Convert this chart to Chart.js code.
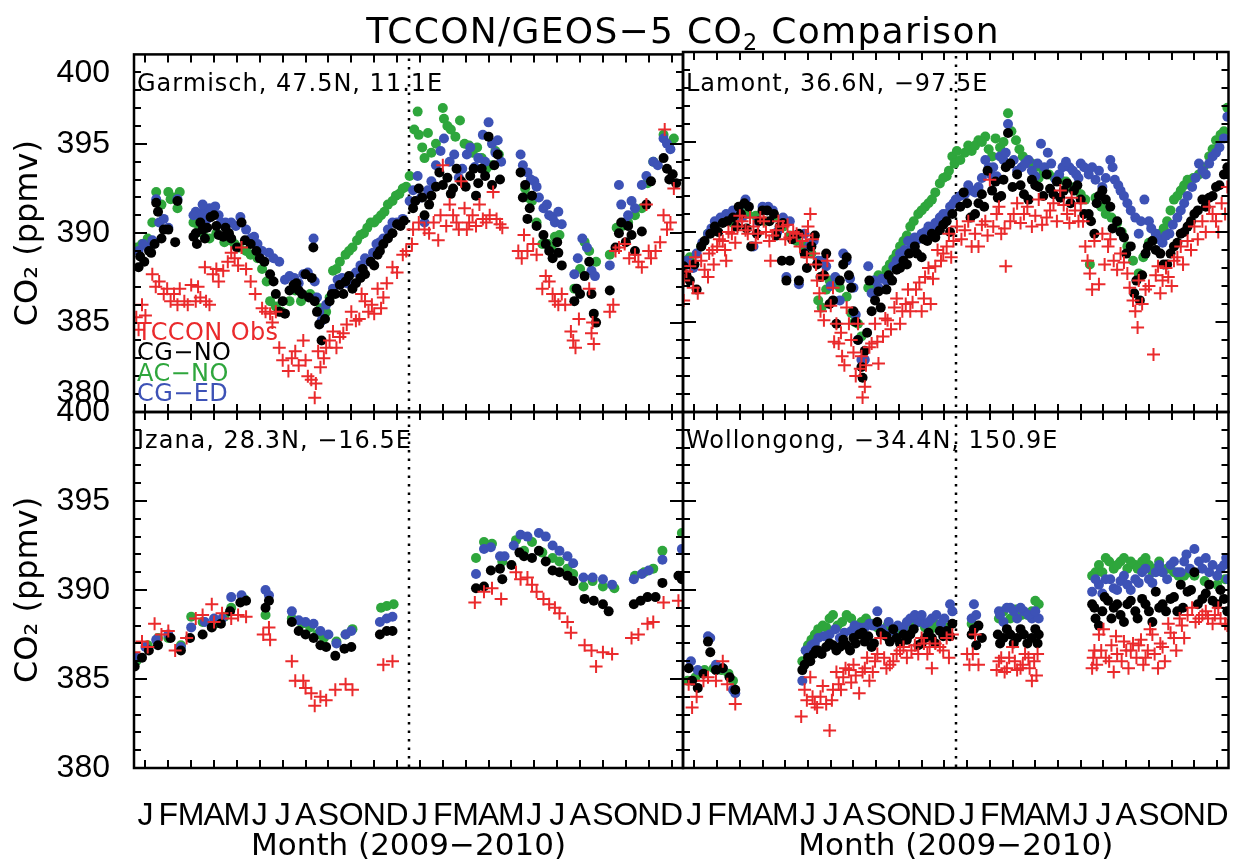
<!DOCTYPE html>
<html>
<head>
<meta charset="utf-8">
<title>TCCON/GEOS-5 CO2 Comparison</title>
<script src="https://cdn.jsdelivr.net/npm/chart.js@4.4.1/dist/chart.umd.min.js"></script>
<style>
  body { margin: 0; background: #fff; }
  #fig { position: relative; width: 1237px; height: 863px; overflow: hidden; background: #fff; }
  #fig canvas { position: absolute; left: 0; top: 0; }
  .txt { position: absolute; white-space: nowrap; line-height: 1; font-family: "DejaVu Sans", sans-serif; color: #000; }
  .title { font-size: 36px; letter-spacing: 1.3px; left: 683px; top: 13px; transform: translateX(-50%); }
  .title sub { font-size: 0.62em; vertical-align: -0.3em; line-height: 0; }
  .site { font-size: 24px; letter-spacing: 1px; }
  .key { font-size: 24px; letter-spacing: 0.4px; left: 137px; }
</style>
</head>
<body>
<div id="fig">
  <canvas id="pGar" width="1237" height="863"></canvas>
  <canvas id="pLam" width="1237" height="863"></canvas>
  <canvas id="pIza" width="1237" height="863"></canvas>
  <canvas id="pWol" width="1237" height="863"></canvas>

  <div class="txt title">TCCON/GEOS−5 CO<sub>2</sub> Comparison</div>
  <div class="txt site" style="left:137px;top:71px">Garmisch, 47.5N, 11.1E</div>
  <div class="txt site" style="left:686px;top:71px">Lamont, 36.6N, −97.5E</div>
  <div class="txt site" style="left:137px;top:428px">Izana, 28.3N, −16.5E</div>
  <div class="txt site" style="left:686px;top:428px">Wollongong, −34.4N, 150.9E</div>

  <div class="txt key" style="top:320px;color:#ea2a2c">TCCON Obs</div>
  <div class="txt key" style="top:340px;color:#000">CG−NO</div>
  <div class="txt key" style="top:361px;color:#2ea63c">AC−NO</div>
  <div class="txt key" style="top:381px;color:#3d52b6">CG−ED</div>
</div>

<script>
// x = months since 1 Jan 2009 (0..24), y = column CO2 in ppmv
const monthLetters = ['J', 'F', 'M', 'A', 'M', 'J', 'J', 'A', 'S', 'O', 'N', 'D'];
const monthCentres = [0.5, 1.5, 2.5, 3.5, 4.5, 5.5, 6.5, 7.5, 8.5, 9.5, 10.5, 11.5,
  12.5, 13.5, 14.5, 15.5, 16.5, 17.5, 18.5, 19.5, 20.5, 21.5, 22.5, 23.5];
const newYear = 12;   // 1 Jan 2010

const RED = '#ea2a2c', GREEN = '#2ea63c', BLUE = '#3d52b6', BLACK = '#000';

// ---- Garmisch ----
const garObs = [[0.1,385.3],[0.35,386.0],[0.8,387.7],[1.1,387.3],[1.45,386.9],[1.75,386.6],[2.0,386.9],[2.2,386.2],
  [2.5,387.1],[2.7,386.2],[2.9,386.4],[3.15,386.2],[3.1,388.1],[3.45,387.7],[3.7,387.3],[4.1,388.4],[4.4,388.6],
  [4.7,389.2],[5.1,387.3],[5.6,385.8],[5.95,385.5],[6.2,385.6],[6.5,382.9],[6.75,382.3],[7.05,383.4],[7.4,384.0],
  [7.5,382.9],[7.75,381.8],[7.9,380.8],[8.15,382.5],[8.4,383.6],[8.7,384.5],[9.0,384.2],[9.3,384.9],[9.7,385.1],
  [9.95,386.6],[10.25,385.6],[10.5,385.5],[10.65,386.9],[10.9,386.4],[11.3,388.1],[11.75,388.8],[12.15,389.4],
  [0.2,384.6],[0.5,385.4],[0.95,387.0],[1.3,386.6],[1.6,386.2],[1.9,386.0],[2.35,386.0],[2.8,387.0],[3.3,386.0],
  [3.6,388.0],[3.9,387.9],[4.25,388.9],[4.55,388.2],[4.9,388.0],[5.3,386.6],[5.75,385.6],[6.05,385.0],[6.35,383.6],
  [6.9,383.0],[7.2,382.6],[7.6,382.0],[7.95,381.6],[8.05,383.4],[8.3,383.0],[8.55,384.0],[8.85,383.6],[9.15,384.4],
  [9.5,385.6],[9.85,385.2],[10.1,386.2],[10.4,386.0],[10.8,385.8],[11.05,387.2],[11.5,387.8],[11.9,389.0],
  [12.2,390.2],[12.7,390.2],[13.1,390.6],[13.3,389.6],[13.5,393.8],[13.8,391.6],[14.1,390.6],[14.3,392.9],
  [14.55,390.2],[14.8,391.0],[15.1,391.6],[15.4,390.6],[15.7,392.3],[16.0,390.5],[16.8,389.0],[17.05,389.9],
  [17.45,389.4],[17.85,386.9],[18.15,387.3],[18.4,386.2],[18.7,386.6],[19.1,384.5],[19.3,383.6],[19.9,386.9],
  [20.0,384.4],[20.1,383.8],[20.8,385.6],[21.05,389.0],[21.45,389.4],[21.9,388.8],[22.2,388.1],[22.4,391.6],
  [22.6,388.6],[23.0,389.5],[23.3,390.2],[23.2,395.8],[23.6,392.5],
  [12.45,390.6],[12.9,390.0],[13.4,391.0],[13.65,390.4],[13.95,391.0],[14.2,390.2],[14.45,391.4],[14.65,390.6],
  [14.95,390.4],[15.25,390.8],[15.55,391.0],[15.85,390.8],[16.1,390.3],[16.95,388.6],[17.2,389.0],[17.6,388.8],
  [18.0,387.6],[18.3,386.6],[18.55,386.0],[18.85,386.0],[19.2,384.0],[19.45,385.2],[20.05,385.0],[20.95,386.0],
  [21.2,389.2],[21.65,388.6],[22.05,388.4],[22.5,389.0],[22.8,389.0],[23.15,391.0],[23.45,390.6]];
const garCgNo = [[0.2,388.1],[0.27,388.7],[0.66,389.0],[0.9,389.4],[0.97,391.7],[1.05,391.2],[1.2,389.7],[1.5,390.2],
  [1.9,391.8],[1.8,389.5],[2.7,390.0],[2.75,389.4],[2.9,390.6],[3.1,389.7],[3.2,390.3],[3.5,391.0],[3.7,389.9],
  [4.0,390.3],[4.25,389.7],[4.5,389.2],[4.7,390.6],[5.1,389.4],[5.35,389.0],[5.7,388.4],[5.95,387.7],[6.1,387.3],
  [6.35,385.6],[6.6,385.5],[6.98,387.1],[7.2,386.8],[7.5,387.7],[7.77,387.5],[7.84,389.2],[7.9,386.2],[8.1,384.9],
  [8.2,384.0],[8.55,386.2],[8.8,386.6],[9.0,387.1],[9.25,387.3],[9.55,386.9],[9.9,387.5],[10.1,387.7],[10.35,388.4],
  [10.65,388.8],[10.9,389.4],[11.1,389.7],[11.5,390.5],[11.8,390.7],
  [0.45,388.4],[0.75,388.9],[1.3,390.2],[2.6,389.8],[3.0,390.2],[3.35,390.9],[3.6,390.4],[3.9,389.8],[4.15,390.0],
  [4.85,389.6],[5.5,388.6],[6.2,386.6],[6.5,386.2],[6.8,386.8],[7.1,387.2],[7.35,386.6],[7.65,386.4],[8.0,385.6],
  [8.35,385.2],[8.65,386.6],[9.15,386.6],[9.4,387.6],[9.7,387.2],[10.0,388.0],[10.5,388.2],[10.75,389.0],
  [11.3,390.0],[11.65,390.4],
  [12.2,391.4],[12.45,392.5],[12.7,391.0],[13.0,392.1],[13.5,392.7],[13.7,393.1],[13.95,392.5],[14.3,392.9],
  [14.7,393.2],[14.95,392.1],[15.2,393.6],[15.5,395.4],[15.65,392.7],[15.9,394.4],[16.9,393.4],[17.1,392.7],
  [17.4,392.1],[17.2,390.8],[17.9,389.9],[18.15,389.0],[18.5,389.5],[18.7,388.2],[19.25,386.2],[19.5,386.6],
  [19.9,388.4],[20.0,386.6],[20.1,385.5],[20.8,386.8],[21.05,389.2],[21.3,390.6],[21.5,389.5],[21.75,389.9],
  [22.2,390.1],[22.6,392.9],[23.15,394.2],[23.3,393.6],[23.55,393.3],
  [12.3,391.8],[12.6,392.0],[12.9,391.6],[13.2,392.6],[13.35,393.4],[13.85,392.2],[14.1,393.6],[14.5,392.6],
  [14.85,393.6],[15.05,392.8],[15.35,393.2],[15.75,393.8],[16.0,393.0],[17.0,392.0],[17.3,391.4],[17.6,390.4],
  [18.0,389.4],[18.3,388.6],[18.55,388.9],[19.35,386.9],[19.7,387.6],[20.2,385.0],[21.2,390.0],[21.6,390.4],
  [21.9,389.0],[22.4,391.6],[23.4,393.0],[23.7,392.8]];
const garCgEd = [[0.2,389.0],[0.6,389.2],[0.97,391.9],[1.1,390.6],[1.5,390.3],[1.9,391.9],[2.7,391.2],[2.9,391.0],
  [3.1,391.3],[3.3,391.4],[3.55,391.5],[3.8,390.6],[4.25,390.6],[4.65,390.9],[5.1,389.7],[5.4,389.4],[5.9,388.9],
  [6.35,388.4],[7.0,387.5],[7.4,387.7],[7.85,389.7],[7.9,387.3],[8.1,385.6],[8.2,385.1],[8.7,386.9],[9.1,387.5],
  [9.5,387.1],[9.9,388.2],[10.3,388.4],[10.6,389.4],[10.9,389.7],[11.3,390.6],[11.75,390.8],[12.05,391.8],
  [0.4,389.4],[0.8,389.6],[1.3,390.8],[2.6,391.0],[3.0,391.6],[3.2,390.8],[3.45,391.0],[3.7,391.0],[4.0,390.6],
  [4.45,390.4],[4.9,390.2],[5.25,389.8],[5.6,389.0],[6.1,388.6],[6.6,387.4],[6.8,387.6],[7.2,387.2],[7.6,387.8],
  [8.0,386.4],[8.4,386.0],[8.9,387.4],[9.3,387.2],[9.7,387.8],[10.1,388.6],[10.45,388.9],[10.75,389.5],
  [11.1,390.2],[11.5,390.6],
  [12.4,393.2],[12.7,390.6],[13.0,392.9],[13.55,395.3],[13.8,394.0],[14.2,393.1],[14.55,394.4],[14.9,393.7],
  [15.25,395.5],[15.5,396.2],[15.8,394.5],[16.05,394.0],[16.9,394.4],[17.2,393.4],[17.5,392.9],[17.7,392.0],
  [17.9,391.4],[18.15,391.0],[18.4,390.6],[18.7,390.5],[19.25,387.7],[19.6,389.7],[20.0,387.9],[20.8,388.2],
  [21.2,392.7],[21.6,391.0],[21.9,391.4],[22.2,392.7],[22.7,394.0],[23.15,395.3],[23.45,394.7],
  [12.2,392.4],[12.55,392.0],[12.85,392.4],[13.2,393.8],[13.4,394.6],[14.0,394.4],[14.35,393.6],[14.7,394.8],
  [15.05,394.2],[15.35,394.0],[15.65,395.0],[15.9,395.2],[17.0,393.8],[17.35,393.0],[17.6,392.6],[18.05,391.6],
  [18.3,390.9],[18.55,391.2],[19.4,388.6],[19.8,389.2],[20.15,387.6],[21.3,391.6],[21.45,390.6],[21.75,391.8],
  [22.4,393.2],[22.9,393.8],[23.3,395.0]];
const garAcNo = [[0.1,389.2],[0.6,389.7],[0.97,392.3],[1.5,392.3],[1.6,391.9],[2.0,392.3],[1.9,391.4],[2.85,390.3],
  [3.3,389.7],[3.95,389.5],[4.4,389.4],[4.9,389.0],[5.4,388.6],[5.8,387.3],[5.95,386.2],[6.45,385.6],[6.8,386.2],
  [7.05,386.8],[7.7,386.6],[8.15,385.8],[8.4,385.6],[8.7,387.9],[9.0,388.4],[9.25,388.8],[9.55,389.2],[9.9,389.9],
  [10.2,390.3],[10.5,390.6],[10.8,391.0],[11.1,391.6],[11.45,392.1],[11.75,392.5],[12.05,393.2],
  [0.35,389.4],[0.8,390.6],[1.2,391.6],[1.75,392.0],[2.6,390.6],[3.0,390.0],[3.6,390.0],[4.2,389.6],[4.6,389.2],
  [5.1,388.8],[5.6,388.0],[6.2,385.9],[7.3,386.2],[7.9,386.4],[8.55,386.4],[8.85,388.0],[9.4,389.0],[9.75,389.6],
  [10.05,390.0],[10.35,390.6],[10.65,390.8],[10.95,391.2],[11.3,391.8],[11.6,392.2],[11.9,392.6],
  [12.4,396.8],[12.45,395.5],[12.7,394.2],[13.0,394.5],[13.5,397.0],[13.55,396.4],[13.85,395.8],[14.25,396.3],
  [14.65,394.9],[14.8,394.5],[15.2,394.2],[15.65,393.8],[15.95,394.4],[17.1,392.5],[17.4,391.8],[17.85,389.4],
  [18.25,389.2],[18.6,389.9],[19.25,386.9],[19.7,389.5],[20.2,388.4],[20.8,388.8],[21.1,390.3],[21.6,390.6],
  [22.2,391.4],[22.7,394.0],[23.15,395.5],[23.6,395.3],
  [12.25,395.8],[12.6,394.8],[12.85,395.6],[13.2,395.0],[13.7,396.0],[14.05,395.4],[14.45,395.0],[15.0,394.8],
  [15.4,393.6],[15.8,394.6],[17.2,392.0],[17.6,390.6],[18.1,389.4],[18.4,389.8],[19.5,388.0],[19.9,389.0],
  [21.35,390.4],[21.9,391.0],[22.45,392.8],[23.4,395.0]];

// ---- Lamont ----
const lamObs = [[0.03,387.3],[0.03,386.2],[0.3,388.1],[0.65,386.6],[0.8,388.4],[1.1,387.5],[1.3,389.0],[1.5,389.2],
  [1.75,389.5],[1.9,388.4],[2.15,389.9],[2.4,390.3],[2.6,390.6],[2.85,389.9],[3.1,390.3],[3.3,389.9],[3.55,390.6],
  [3.8,389.5],[3.85,388.4],[4.1,390.1],[4.4,390.3],[4.7,389.7],[5.0,389.9],[5.25,389.5],[5.5,390.3],[5.6,391.0],
  [5.75,388.8],[5.9,387.3],[6.05,385.6],[6.2,385.1],[6.35,388.4],[6.6,386.9],[6.75,384.9],[6.85,383.8],[7.0,383.1],
  [7.2,385.8],[7.4,384.0],[7.5,383.3],[7.7,384.9],[7.85,383.1],[7.9,380.8],[8.0,381.4],[8.2,383.6],[8.45,384.9],
  [8.6,382.7],[8.8,384.2],[9.0,385.1],[9.3,385.8],[9.55,384.9],[9.8,386.0],[10.0,385.6],[10.25,386.8],[10.5,385.6],
  [10.65,387.5],[10.9,386.0],[11.1,388.1],[11.35,388.4],[11.6,389.2],[11.9,389.5],[12.05,390.3],
  [0.15,387.8],[0.45,386.9],[0.55,388.6],[0.95,387.9],[1.15,388.8],[1.35,388.2],[1.6,389.6],[1.85,389.0],
  [2.0,390.0],[2.3,389.4],[2.5,390.9],[2.75,390.1],[2.95,390.8],[3.2,389.4],[3.4,390.8],[3.65,390.0],[3.95,389.8],
  [4.2,390.6],[4.5,389.6],[4.6,390.4],[4.85,390.0],[5.15,389.2],[5.4,389.8],[5.45,388.6],[5.7,389.6],[5.85,388.2],
  [6.0,386.6],[6.15,387.6],[6.5,385.9],[6.65,383.9],[6.95,384.4],[7.1,382.6],[7.3,384.9],[7.6,382.0],[7.8,382.4],
  [8.05,382.6],[8.3,383.8],[8.55,383.9],[8.9,385.2],[9.15,384.6],[9.4,386.3],[9.65,385.6],[9.9,386.8],[10.1,386.1],
  [10.4,387.2],[10.6,386.3],[10.8,388.0],[11.0,387.4],[11.2,389.0],[11.45,388.8],[11.7,389.9],[11.8,388.6],
  [12.4,390.1],[12.7,389.2],[13.0,389.2],[13.3,390.6],[13.5,392.9],[13.8,391.0],[14.0,389.9],[14.2,388.1],
  [14.4,390.6],[14.7,391.6],[15.0,391.0],[15.35,390.3],[15.65,391.8],[16.0,390.8],[16.3,391.6],[16.6,392.3],
  [16.9,391.0],[17.1,391.9],[17.4,390.6],[17.5,391.6],[17.7,389.2],[17.9,387.7],[18.1,389.5],[18.3,387.1],
  [18.45,389.9],[18.7,389.2],[18.95,388.4],[19.25,388.8],[19.55,387.7],[19.8,386.2],[20.0,384.7],[20.05,387.3],
  [20.35,386.8],[20.7,383.2],[20.9,388.1],[21.1,387.3],[21.35,387.5],[21.6,388.4],[21.9,389.2],[22.2,389.5],
  [22.5,390.3],[22.85,390.6],[23.15,391.4],[23.45,390.6],[23.7,391.6],[23.95,392.5],
  [12.25,389.6],[12.55,390.6],[12.85,389.9],[13.15,390.4],[13.4,389.8],[13.65,390.3],[13.9,391.4],[14.15,390.2],
  [14.55,391.0],[14.85,390.5],[15.15,391.4],[15.5,390.9],[15.8,390.4],[16.15,391.2],[16.45,390.6],[16.75,391.5],
  [17.0,390.5],[17.25,391.2],[17.6,390.6],[17.8,388.4],[18.0,386.8],[18.55,388.2],[18.8,389.6],[19.1,387.9],
  [19.4,388.3],[19.65,386.9],[19.9,385.6],[20.2,386.0],[20.5,387.0],[20.8,387.6],[21.0,386.6],[21.25,388.0],
  [21.5,387.0],[21.75,388.6],[22.0,388.2],[22.35,389.0],[22.65,389.6],[23.0,390.0],[23.3,391.0],[23.55,390.0],
  [23.85,391.0]];
const lamCgNo = [[0.03,388.1],[0.3,387.3],[0.6,386.8],[0.8,389.2],[1.2,389.9],[1.4,390.3],[1.75,390.5],[2.2,390.8],
  [2.45,391.4],[2.7,391.6],[2.9,391.4],[3.0,389.2],[3.25,389.9],[3.5,391.2],[3.8,390.6],[4.0,391.0],[4.25,390.3],
  [4.4,390.5],[4.55,387.3],[4.7,388.4],[5.1,387.3],[5.1,389.9],[5.35,388.8],[5.65,389.2],[5.9,388.2],[6.05,387.5],
  [6.3,388.8],[6.6,386.2],[6.75,384.9],[6.9,387.3],[7.05,388.2],[7.2,388.6],[7.4,386.9],[7.5,385.6],[7.7,384.0],
  [7.85,382.5],[7.9,381.9],[8.1,384.4],[8.2,387.3],[8.45,386.2],[8.7,385.8],[8.95,386.8],[9.2,387.3],[9.4,387.9],
  [9.7,388.4],[9.95,388.8],[10.2,389.2],[10.5,388.6],[10.75,389.5],[10.95,389.9],[11.3,390.1],[11.6,390.6],
  [11.85,391.0],
  [0.15,387.6],[0.5,388.2],[0.95,389.5],[1.55,390.0],[1.95,390.6],[2.35,390.3],[2.55,391.0],[2.8,390.2],[3.35,390.6],
  [3.7,391.2],[4.1,389.8],[4.35,388.4],[4.8,389.6],[5.45,388.0],[5.8,389.8],[6.2,387.6],[6.45,386.0],[7.3,387.6],
  [7.6,385.0],[8.0,383.4],[8.3,385.6],[8.6,386.7],[9.05,387.6],[9.55,388.0],[9.85,388.2],[10.3,388.8],[10.6,389.6],
  [11.1,389.7],[11.45,390.4],[11.75,390.0],
  [12.2,391.4],[12.5,391.6],[12.85,391.0],[13.15,392.1],[13.4,393.4],[13.6,392.3],[13.85,391.9],[14.1,392.9],
  [14.3,395.5],[14.5,392.5],[14.7,393.2],[15.0,392.1],[15.35,392.9],[15.65,392.5],[16.0,393.2],[16.3,392.1],
  [16.6,391.9],[16.9,392.7],[17.2,392.3],[17.5,391.8],[17.85,391.0],[18.1,389.9],[18.2,391.6],[18.45,392.3],
  [18.8,391.4],[19.1,390.6],[19.4,389.7],[19.7,389.2],[19.95,387.3],[20.1,386.2],[20.35,388.8],[20.65,389.5],
  [21.0,388.8],[21.3,388.2],[21.6,389.2],[21.9,389.9],[22.2,390.3],[22.5,391.0],[22.85,391.8],[23.15,391.9],
  [23.45,392.5],[23.8,393.2],
  [12.35,392.2],[12.65,390.8],[13.0,391.6],[13.25,391.4],[13.75,392.8],[14.0,392.0],[14.2,393.6],[14.4,393.8],
  [14.85,392.6],[15.2,391.8],[15.5,392.6],[15.85,392.0],[16.15,392.4],[16.45,392.8],[16.75,392.3],[17.05,391.6],
  [17.35,392.6],[17.65,391.0],[17.95,390.6],[18.3,392.0],[18.6,391.8],[18.9,390.2],[19.25,390.0],[19.5,388.8],
  [19.85,386.6],[20.2,387.6],[20.45,389.2],[20.8,389.0],[21.15,388.2],[21.45,388.8],[21.75,389.4],[22.05,390.0],
  [22.35,390.6],[22.65,391.2],[23.0,391.4],[23.3,392.0],[23.6,392.6],[23.95,393.6]];
const lamCgEd = [[0.2,388.4],[0.6,388.8],[1.1,389.9],[1.4,390.6],[1.9,391.0],[2.45,391.2],[2.75,391.8],[3.1,389.2],
  [3.5,391.4],[3.95,391.2],[4.4,390.8],[4.55,387.5],[4.7,390.6],[5.1,387.1],[5.35,389.9],[5.75,389.5],[5.95,388.4],
  [6.3,388.1],[6.7,387.5],[6.9,386.2],[7.05,388.8],[7.2,388.4],[7.5,386.9],[7.7,384.0],[7.85,382.9],[8.0,382.9],
  [8.15,388.1],[8.4,387.3],[8.6,386.9],[8.95,387.3],[9.25,388.1],[9.55,388.8],[9.9,389.5],[10.2,389.7],[10.5,389.9],
  [10.8,390.3],[11.1,390.5],[11.45,391.0],[11.75,391.4],[12.0,391.8],
  [0.45,388.0],[0.85,389.4],[1.25,390.2],[1.65,390.8],[2.2,391.2],[2.6,390.8],[3.3,390.6],[3.75,391.4],[4.15,390.0],
  [4.9,389.8],[5.55,389.2],[6.15,388.4],[6.5,387.0],[7.35,387.4],[7.6,385.4],[8.3,386.6],[8.75,387.4],[9.4,388.4],
  [9.75,389.0],[10.05,389.3],[10.35,389.6],[10.65,390.0],[10.95,390.2],[11.3,390.8],[11.6,391.0],[11.9,391.6],
  [12.4,392.1],[12.7,392.3],[13.0,392.5],[13.3,394.0],[13.55,393.2],[13.8,393.1],[14.1,394.0],[14.3,396.0],
  [14.55,394.0],[14.9,393.6],[15.2,394.0],[15.5,393.1],[15.75,394.9],[16.05,394.4],[16.4,392.9],[16.7,393.6],
  [17.0,393.6],[17.3,393.2],[17.5,393.8],[17.85,393.2],[18.15,392.9],[18.45,392.5],[18.8,394.0],[19.0,392.9],
  [19.25,392.3],[19.55,391.6],[19.9,390.8],[20.05,389.9],[20.3,391.8],[20.5,390.6],[20.8,389.9],[21.1,389.4],
  [21.4,389.9],[21.75,390.8],[22.05,391.6],[22.4,392.5],[22.7,393.8],[23.0,393.2],[23.3,394.2],[23.6,394.7],
  [23.95,396.4],
  [12.2,392.0],[12.55,392.6],[12.85,392.2],[13.15,393.0],[13.45,393.6],[13.65,393.6],[13.95,394.2],[14.2,394.4],
  [14.7,393.4],[15.05,393.8],[15.35,393.4],[15.6,393.8],[15.9,393.6],[16.2,393.8],[16.55,393.2],[16.85,393.9],
  [17.15,393.4],[17.4,393.0],[17.65,393.6],[18.0,393.6],[18.3,393.4],[18.6,393.0],[18.9,393.6],[19.15,392.6],
  [19.4,392.0],[19.7,391.2],[20.15,390.6],[20.6,390.2],[20.95,389.6],[21.25,389.8],[21.55,390.4],[21.9,391.2],
  [22.2,392.0],[22.55,393.0],[22.85,393.4],[23.15,393.8],[23.45,394.4],[23.8,395.2]];
const lamAcNo = [[0.1,388.4],[0.5,388.2],[1.1,389.9],[1.6,390.6],[2.2,390.5],[2.85,391.0],[3.6,390.6],[4.4,390.3],
  [5.0,389.5],[5.65,388.8],[5.95,386.2],[6.1,385.8],[6.45,387.3],[6.9,386.9],[7.4,385.5],[7.7,384.9],[7.85,384.2],
  [8.15,386.9],[8.45,387.3],[8.8,387.5],[9.1,388.2],[9.4,388.8],[9.7,389.5],[10.0,390.3],[10.35,391.0],
  [10.65,391.4],[10.95,391.8],[11.3,392.7],[11.6,393.1],[11.85,394.2],[12.05,394.5],
  [0.3,388.6],[0.8,389.2],[1.35,390.2],[1.9,390.8],[2.5,391.2],[3.2,390.9],[4.0,390.8],[4.7,389.8],[5.3,389.2],
  [6.3,386.8],[6.7,387.2],[7.2,386.4],[7.55,385.0],[8.3,387.0],[8.6,387.6],[8.95,387.9],[9.25,388.5],[9.55,389.2],
  [9.85,389.8],[10.15,390.6],[10.5,391.2],[10.8,391.6],[11.1,392.2],[11.45,393.0],[11.7,393.4],[11.95,393.8],
  [12.4,394.4],[12.7,394.5],[13.0,395.1],[13.3,395.3],[13.6,394.2],[13.95,394.7],[14.3,396.6],[14.65,395.1],
  [14.95,394.2],[15.35,393.8],[15.65,393.0],[16.1,393.2],[16.6,392.9],[17.05,392.5],[17.5,392.1],[17.9,388.2],
  [18.15,391.9],[18.6,391.0],[19.1,390.5],[19.55,389.2],[20.05,387.7],[20.5,389.4],[21.0,389.9],[21.3,390.6],
  [21.6,391.8],[21.9,392.3],[22.2,392.9],[22.7,393.2],[23.15,394.2],[23.45,395.1],[23.8,395.6],[23.95,396.9],
  [12.2,394.0],[12.55,394.8],[12.85,394.8],[13.15,395.0],[13.45,394.6],[13.75,395.2],[14.1,395.0],[14.45,395.6],
  [14.8,394.6],[15.1,394.0],[15.5,393.6],[15.85,393.4],[16.35,393.0],[16.85,392.8],[17.3,392.4],[17.7,391.8],
  [18.4,391.4],[18.85,390.8],[19.3,390.0],[19.8,388.4],[20.25,388.6],[20.75,389.6],[21.15,390.2],[21.45,391.2],
  [21.75,392.0],[22.05,392.6],[22.45,393.0],[22.9,393.6],[23.3,394.6],[23.65,395.4]];

// ---- Izana ----
const izaObs = [[0.0,386.5],[0.35,387.1],[0.6,386.8],[0.9,388.1],[1.2,387.5],[1.5,387.7],[1.8,386.6],[2.3,387.3],
  [2.7,388.4],[3.0,388.6],[3.4,389.2],[3.5,388.2],[3.85,388.7],[4.25,388.4],[4.55,388.6],[4.9,388.5],[5.65,387.5],
  [5.9,387.9],[5.95,387.2],[6.9,386.0],[7.05,384.9],[7.4,384.9],[7.5,384.5],[7.75,384.2],[7.9,383.5],[8.15,384.0],
  [8.4,383.8],[8.8,384.4],[9.25,384.7],[9.55,384.4],[10.9,385.8],[11.3,386.0],
  [14.9,389.3],[15.3,389.9],[15.65,390.1],[16.05,389.5],[16.7,391.0],[16.9,390.6],[17.2,390.7],[17.4,390.3],
  [17.6,389.9],[17.9,389.5],[18.15,389.2],[18.4,389.0],[18.6,388.7],[18.95,388.2],[19.1,387.6],[19.7,386.9],
  [20.0,386.6],[20.2,385.7],[20.5,386.5],[20.9,386.4],[21.75,387.3],[22.05,387.5],[22.45,388.1],[22.7,388.2],
  [23.15,389.3],[23.8,389.4]];
const izaCgNo = [[0.03,385.7],[0.35,386.2],[0.65,386.6],[1.05,386.9],[1.6,387.3],[2.05,386.6],[2.45,387.3],
  [3.0,387.5],[3.4,387.9],[3.8,388.1],[4.2,388.8],[4.65,389.3],[4.9,389.4],[5.75,389.0],[5.9,389.4],[6.9,388.2],
  [7.2,387.7],[7.5,387.5],[7.85,387.3],[8.15,386.9],[8.4,386.8],[8.8,386.3],[9.2,386.7],[9.5,386.8],[10.75,387.5],
  [11.05,387.7],[11.3,387.7],
  [14.95,390.1],[15.3,390.2],[15.6,391.1],[16.0,391.2],[16.1,390.6],[16.5,391.4],[16.85,392.1],[17.05,391.9],
  [17.4,391.8],[17.7,392.2],[18.0,391.6],[18.3,391.1],[18.6,391.0],[18.95,390.8],[19.2,390.5],[19.7,389.5],
  [20.1,389.4],[20.5,389.2],[20.75,388.8],[21.85,389.2],[22.15,389.4],[22.45,389.6],[22.8,389.6],[23.1,390.4],
  [23.8,390.8],[23.95,390.6]];
const izaCgEd = [[0.1,386.2],[0.5,386.8],[0.97,387.2],[1.5,387.5],[2.05,386.8],[2.5,387.9],[3.1,388.2],[3.5,388.4],
  [3.85,388.4],[4.25,389.6],[4.7,389.7],[5.75,390.0],[5.9,389.7],[6.9,388.8],[7.2,388.3],[7.5,388.2],[7.85,388.1],
  [8.15,387.7],[8.5,387.5],[8.85,387.0],[9.25,387.5],[9.5,387.7],[10.75,388.2],[11.05,388.4],[11.3,388.5],
  [14.95,390.9],[15.3,392.3],[15.6,392.4],[16.0,391.9],[16.2,391.9],[16.6,392.5],[16.9,393.1],[17.2,393.0],
  [17.7,393.2],[18.0,393.0],[18.3,392.5],[18.6,392.2],[18.95,391.9],[19.2,391.5],[19.65,390.7],[20.05,390.7],
  [20.5,390.6],[20.9,390.3],[21.85,390.6],[22.2,390.9],[22.5,391.1],[23.1,391.7],[23.95,392.3]];
const izaAcNo = [[0.1,386.0],[0.6,386.9],[1.05,387.3],[1.5,387.3],[2.05,386.9],[2.5,388.5],[3.0,388.2],[3.55,388.1],
  [3.95,388.5],[4.25,389.0],[4.8,389.5],[5.75,388.6],[6.9,388.4],[7.35,388.1],[7.7,387.9],[8.0,387.5],[8.3,387.3],
  [8.85,387.1],[9.25,387.5],[9.55,387.8],[10.8,389.0],[11.05,389.1],[11.35,389.2],
  [14.95,391.8],[15.3,392.7],[15.65,392.6],[16.1,391.6],[16.7,392.8],[17.05,392.2],[17.4,392.7],[17.85,392.1],
  [18.3,391.8],[18.6,391.6],[18.95,391.2],[19.2,390.9],[19.65,390.2],[20.05,390.5],[20.5,390.2],[21.0,390.1],
  [21.9,390.8],[22.3,391.0],[22.7,391.2],[23.1,392.2],[23.95,393.2]];

// ---- Wollongong ----
const wolObs = [[0.25,384.7],[0.4,383.4],[0.6,384.0],[0.9,384.9],[1.1,385.1],[1.45,384.9],[1.75,386.0],[1.95,384.7],
  [2.3,383.6],[5.2,382.9],[5.35,384.4],[5.6,385.1],[5.8,383.6],[6.05,384.0],[6.3,383.6],[6.45,382.1],[6.6,384.4],
  [6.85,384.7],[7.05,385.1],[7.3,385.5],[7.5,385.8],[7.75,384.2],[8.0,385.6],[8.2,384.9],[8.45,386.0],[8.7,387.3],
  [8.95,385.6],[9.25,386.0],[9.55,386.6],[9.85,386.2],[10.2,386.9],[10.5,387.3],[10.75,386.4],[10.95,385.6],
  [11.3,386.8],[11.6,387.3],[11.85,387.5],
  [5.45,383.8],[5.7,384.0],[5.9,383.4],[6.15,384.6],[6.55,383.8],[6.75,385.4],[6.95,384.4],[7.15,385.6],[7.4,384.8],
  [7.6,385.2],[7.9,385.4],[8.1,386.2],[8.35,385.4],[8.55,386.4],[8.85,386.2],[9.1,385.8],[9.4,386.4],[9.7,386.8],
  [10.05,386.6],[10.35,386.4],[10.6,387.0],[10.85,386.8],[11.1,387.0],[11.45,386.6],[11.7,386.2],
  [12.5,386.4],[12.85,387.5],[13.0,385.8],[13.8,385.5],[14.0,386.2],[14.25,385.6],[14.5,386.8],[14.7,385.5],
  [14.95,385.8],[15.2,386.2],[15.35,384.9],[15.6,386.4],
  [12.6,385.8],[12.75,386.4],[13.9,386.0],[14.15,385.4],[14.35,386.2],[14.6,386.0],[14.85,385.6],[15.05,386.4],
  [15.25,385.6],[15.45,386.0],[15.55,385.2],
  [18.0,385.6],[18.1,386.6],[18.3,387.5],[18.6,386.2],[18.85,386.9],[19.1,386.4],[19.4,387.1],[19.7,386.6],
  [20.05,386.9],[20.35,386.2],[20.65,387.5],[20.9,385.6],[21.1,386.8],[21.35,388.1],[21.6,387.3],[21.85,388.4],
  [22.05,387.3],[22.4,389.0],[22.7,388.4],[23.0,388.8],[23.3,388.1],[23.55,389.0],[23.85,388.1],
  [18.05,386.2],[18.2,385.8],[18.4,386.6],[18.5,387.8],[18.75,386.0],[18.95,385.4],[19.05,387.4],[19.3,386.0],
  [19.5,386.6],[19.6,385.6],[19.8,387.0],[19.95,386.2],[20.15,387.2],[20.25,385.8],[20.45,386.6],[20.55,387.8],
  [20.75,386.4],[21.0,387.0],[21.2,386.0],[21.45,387.6],[21.7,386.6],[21.95,388.0],[22.2,388.6],[22.55,388.2],
  [22.85,388.6],[23.1,388.4],[23.4,388.6],[23.65,388.4],[23.95,388.0]];
const wolCgNo = [[0.25,385.6],[0.4,384.9],[0.65,384.5],[0.9,385.3],[1.1,387.1],[1.2,386.5],[1.45,385.5],[1.75,385.6],
  [2.05,385.1],[2.3,384.4],[5.25,385.5],[5.5,386.2],[5.75,386.4],[5.95,386.6],[6.3,386.8],[6.6,386.9],[6.9,386.8],
  [7.2,386.9],[7.5,387.3],[7.75,387.5],[8.0,387.1],[8.3,386.8],[8.55,388.2],[8.8,387.5],[9.1,387.1],[9.4,387.3],
  [9.7,387.5],[10.0,387.5],[10.35,386.9],[10.65,387.3],[10.95,387.3],[11.3,387.7],[11.6,387.7],[11.85,388.1],
  [5.35,385.8],[5.6,386.0],[5.85,386.6],[6.1,386.4],[6.45,387.0],[6.75,386.6],[7.05,387.2],[7.35,386.6],[7.6,387.0],
  [7.9,387.6],[8.15,387.4],[8.4,387.0],[8.7,387.6],[8.95,387.4],[9.25,387.8],[9.55,387.0],[9.85,387.2],[10.15,387.8],
  [10.5,387.0],[10.8,387.6],[11.1,387.0],[11.45,387.4],[11.75,387.4],
  [12.7,387.5],[12.9,386.9],[13.15,387.3],[13.85,387.5],[14.1,387.3],[14.4,387.5],[14.7,387.3],[15.0,387.5],
  [15.35,387.3],[15.65,387.5],[12.8,387.8],[13.0,388.0],[13.95,387.0],[14.25,387.8],[14.55,387.0],[14.85,387.8],
  [15.15,387.0],[15.5,387.8],[15.6,387.0],
  [18.0,389.2],[18.15,388.4],[18.45,388.8],[18.7,389.4],[18.95,389.0],[19.25,388.6],[19.55,389.2],[19.9,388.8],
  [20.2,389.5],[20.5,388.8],[20.8,389.9],[21.1,389.2],[21.45,389.5],[21.75,388.8],[21.9,390.3],[22.2,389.9],
  [22.5,391.0],[22.85,389.5],[23.15,390.3],[23.5,389.2],[23.8,389.5],[23.95,388.8],
  [18.1,389.0],[18.3,388.0],[18.55,389.6],[18.85,388.4],[19.1,389.2],[19.4,388.2],[19.7,389.4],[20.0,388.4],
  [20.35,389.2],[20.65,388.2],[20.95,389.0],[21.25,388.8],[21.6,389.6],[22.0,389.0],[22.35,390.0],[22.65,389.2],
  [23.0,389.8],[23.3,389.4],[23.65,390.0]];
const wolCgEd = [[0.35,386.0],[0.65,385.5],[1.1,387.4],[1.2,387.3],[1.45,385.8],[1.75,385.6],[2.2,384.4],[2.3,384.2],
  [5.25,384.9],[5.4,386.6],[5.65,386.9],[5.95,387.3],[6.45,387.5],[6.9,387.3],[7.4,387.7],[7.75,387.9],[8.2,388.1],
  [8.55,388.8],[8.95,387.5],[9.25,387.7],[9.7,387.9],[10.0,388.4],[10.35,388.2],[10.65,388.1],[10.95,388.4],
  [11.35,388.1],[11.75,389.2],[11.85,388.8],
  [5.5,386.4],[5.8,387.0],[6.2,387.4],[6.7,387.8],[7.1,387.6],[7.55,388.0],[8.0,387.9],[8.35,388.0],[8.75,387.8],
  [9.05,388.2],[9.45,388.0],[9.85,388.2],[10.2,388.6],[10.5,388.6],[10.8,388.2],[11.15,388.6],[11.5,388.4],
  [12.7,388.4],[12.9,388.6],[13.9,388.8],[14.1,388.2],[14.4,389.0],[14.7,388.4],[15.0,388.8],[15.35,388.4],
  [15.65,388.4],[12.8,389.2],[13.95,388.6],[14.25,389.0],[14.55,388.8],[14.85,389.0],[15.2,388.6],[15.5,388.8],
  [18.0,389.9],[18.3,390.3],[18.6,390.6],[18.95,390.1],[19.25,390.5],[19.55,390.3],[19.9,390.6],
  [20.2,391.0],[20.5,390.6],[20.8,391.0],[21.1,391.0],[21.45,391.4],[21.75,391.0],[22.05,391.6],[22.3,391.2],
  [22.5,392.3],[22.85,391.2],[23.15,391.0],[23.5,390.8],[23.8,391.4],[23.97,390.6],
  [18.15,390.6],[18.45,389.8],[18.8,390.6],[19.1,390.0],[19.4,390.8],[19.7,390.0],[20.05,390.4],[20.35,391.2],
  [20.65,390.4],[20.95,391.4],[21.3,390.6],[21.6,391.6],[21.9,391.0],[22.15,392.0],[22.7,391.6],[23.0,391.8],
  [23.3,391.4],[23.65,391.2],[23.9,391.8]];
const wolAcNo = [[0.2,384.9],[0.55,385.1],[0.95,385.5],[1.35,385.6],[1.7,385.5],[2.0,385.3],[2.2,384.9],[5.25,386.0],
  [5.5,386.9],[5.8,387.5],[6.3,387.9],[6.6,388.6],[7.0,388.2],[7.4,388.4],[7.85,388.2],[8.3,388.1],[8.8,387.7],
  [9.25,387.7],[9.7,387.9],[10.2,388.1],[10.65,387.9],[11.1,388.1],[11.6,387.9],
  [5.4,386.6],[5.65,387.2],[5.95,387.8],[6.15,388.0],[6.45,388.4],[6.8,388.0],[7.2,388.6],[7.6,388.0],[8.05,388.4],
  [8.55,387.9],[9.0,388.0],[9.5,387.6],[9.95,388.0],[10.4,388.2],[10.9,387.8],[11.35,388.0],
  [12.7,388.1],[13.9,388.4],[14.4,388.4],[14.9,388.6],[15.35,388.8],[15.65,389.2],
  [14.1,388.8],[14.65,388.9],[15.15,388.6],[15.5,389.4],
  [18.0,390.8],[18.3,391.4],[18.6,391.8],[18.95,391.2],[19.25,391.6],[19.55,391.2],[19.9,391.4],[20.2,391.6],
  [20.5,391.4],[20.8,391.2],[21.1,391.0],[21.6,391.0],[22.05,390.8],[22.5,390.8],[22.95,390.5],[23.5,390.3],
  [23.85,390.6],
  [18.15,391.0],[18.45,391.0],[18.75,391.6],[19.1,391.4],[19.4,391.8],[19.7,391.6],[20.0,391.2],[20.35,391.8],
  [20.65,391.0],[20.95,391.6],[21.3,391.2],[21.8,390.8],[22.25,391.0]];

function toPoints(list) {
  return list.map(function(p) { return {x: p[0], y: p[1]}; });
}

// first dataset is painted last, so the observations sit on top
function siteDatasets(obs, cgno, cged, acno) {
  var dot = function(label, list, colour) {
    return {label: label, data: toPoints(list), pointStyle: 'circle', pointRadius: 5,
      pointBackgroundColor: colour, pointBorderWidth: 0, pointBorderColor: colour};
  };
  return [
    {label: 'TCCON Obs', data: toPoints(obs), pointStyle: 'cross', pointRadius: 6.5,
      pointBorderColor: RED, pointBackgroundColor: RED, pointBorderWidth: 2},
    dot('CG-NO', cgno, BLACK),
    dot('CG-ED', cged, BLUE),
    dot('AC-NO', acno, GREEN)
  ];
}

// frame, inward IDL-style ticks and the dotted year boundary
var framePlugin = {
  id: 'frame',
  beforeDatasetsDraw: function(chart) {
    var ctx = chart.ctx, a = chart.chartArea;
    var nx = Math.round(chart.scales.x.getPixelForValue(newYear));
    ctx.save();
    ctx.strokeStyle = '#000';
    ctx.lineWidth = 2.5;
    ctx.setLineDash([2.5, 6]);
    ctx.beginPath();
    ctx.moveTo(nx, a.top + 4);
    ctx.lineTo(nx, a.bottom);
    ctx.stroke();
    ctx.restore();
  },
  afterDraw: function(chart) {
    var ctx = chart.ctx, a = chart.chartArea;
    var xs = chart.scales.x, ys = chart.scales.y;
    ctx.save();
    ctx.strokeStyle = '#000';
    ctx.lineWidth = 2;
    ctx.beginPath();
    for (var v = 381; v < 400; v++) {
      var py = Math.round(ys.getPixelForValue(v));
      var len = v % 5 === 0 ? 13 : 7;
      ctx.moveTo(a.left, py); ctx.lineTo(a.left + len, py);
      ctx.moveTo(a.right, py); ctx.lineTo(a.right - len, py);
    }
    monthCentres.forEach(function(m) {
      var px = Math.round(xs.getPixelForValue(m));
      ctx.moveTo(px, a.bottom); ctx.lineTo(px, a.bottom - 8);
      ctx.moveTo(px, a.top); ctx.lineTo(px, a.top + 8);
    });
    ctx.stroke();
    ctx.lineWidth = 2.5;
    ctx.strokeRect(a.left, a.top, a.right - a.left, a.bottom - a.top);
    ctx.restore();
  }
};

function makePanel(canvasId, datasets, pad, showX, showY, yLabel) {
  return new Chart(document.getElementById(canvasId), {
    type: 'scatter',
    data: {datasets: datasets},
    options: {
      responsive: false,
      animation: false,
      devicePixelRatio: 1,
      layout: {padding: pad},
      plugins: {legend: {display: false}, tooltip: {enabled: false}},
      scales: {
        x: {
          type: 'linear', min: 0, max: 24, display: showX,
          grid: {display: false}, border: {display: false},
          afterBuildTicks: function(s) { s.ticks = monthCentres.map(function(m) { return {value: m}; }); },
          // fixed axis height, and no extra side room for the end labels
          afterFit: showX ? function(s) { s.height = 95; s.paddingLeft = 0; s.paddingRight = 0; } : undefined,
          ticks: {
            autoSkip: false, maxRotation: 0, minRotation: 0, padding: 21, color: '#000',
            font: {family: 'Liberation Sans', size: 32},
            callback: function(v) { return monthLetters[Math.floor(v) % 12]; }
          },
          title: {display: true, text: 'Month (2009−2010)', color: '#000',
            font: {family: 'DejaVu Sans', size: 31, lineHeight: 1}, padding: {top: 0, bottom: 1}}
        },
        y: {
          type: 'linear', min: 380, max: 400, display: showY,
          grid: {display: false}, border: {display: false},
          afterFit: showY ? function(s) { s.width = 134; } : undefined,
          ticks: {stepSize: 5, padding: 16, color: '#000',
            font: {family: 'Liberation Sans', size: 32}, callback: yLabel},
          title: {display: true, text: 'CO₂ (ppmv)', color: '#000',
            font: {family: 'DejaVu Sans', size: 32}, padding: {top: 9, bottom: 0}}
        }
      }
    },
    plugins: [framePlugin]
  });
}

// the upper row keeps its end labels inside the frame
function topRowLabel(v) {
  if (v === 400) return ['', '400'];
  if (v === 380) return ['380', ''];
  return String(v);
}
function plainLabel(v) { return String(v); }

makePanel('pGar', siteDatasets(garObs, garCgNo, garCgEd, garAcNo),
  {left: 0, top: 52, right: 554, bottom: 451}, false, true, topRowLabel);
makePanel('pLam', siteDatasets(lamObs, lamCgNo, lamCgEd, lamAcNo),
  {left: 683, top: 52, right: 5, bottom: 451}, false, false, plainLabel);
makePanel('pIza', siteDatasets(izaObs, izaCgNo, izaCgEd, izaAcNo),
  {left: 0, top: 412, right: 554, bottom: 0}, true, true, plainLabel);
makePanel('pWol', siteDatasets(wolObs, wolCgNo, wolCgEd, wolAcNo),
  {left: 683, top: 412, right: 5, bottom: 0}, true, false, plainLabel);
</script>
</body>
</html>
